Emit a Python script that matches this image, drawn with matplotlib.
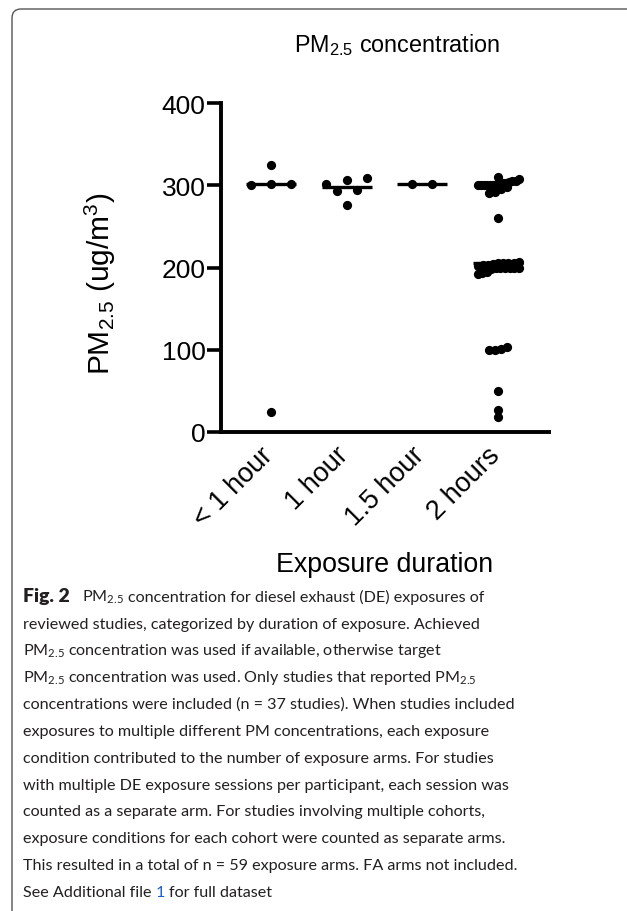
import numpy as np
import matplotlib
matplotlib.use("Agg")
import matplotlib.pyplot as plt
from matplotlib.patches import FancyBboxPatch
from matplotlib.transforms import IdentityTransform, ScaledTranslation

categories = ["< 1 hour", "1 hour", "1.5 hour", "2 hours"]
pm_lt1h = [24, 300, 301, 302, 325]
pm_1h = [276, 293, 294, 302, 306, 309]
pm_15h = [302, 302]
pm_2h = [18, 27, 50, 100, 100, 101, 103,
         192, 193, 195, 198, 200, 200, 200, 200, 200, 200, 202, 203, 203,
         204, 205, 205, 205, 206, 207, 260,
         290, 292, 295, 298, 300, 300, 300, 300, 300, 300, 302, 302, 303,
         303, 304, 305, 305, 307, 310]
groups = [pm_lt1h, pm_1h, pm_15h, pm_2h]

caption_lines = [
    "concentration for diesel exhaust (DE) exposures of",
    "reviewed studies, categorized by duration of exposure. Achieved",
    "PM$\\mathregular{_{2.5}}$ concentration was used if available, otherwise target",
    "PM$\\mathregular{_{2.5}}$ concentration was used. Only studies that reported PM$\\mathregular{_{2.5}}$",
    "concentrations were included (n = 37 studies). When studies included",
    "exposures to multiple different PM concentrations, each exposure",
    "condition contributed to the number of exposure arms. For studies",
    "with multiple DE exposure sessions per participant, each session was",
    "counted as a separate arm. For studies involving multiple cohorts,",
    "exposure conditions for each cohort were counted as separate arms.",
    "This resulted in a total of n = 59 exposure arms. FA arms not included.",
]

W, H = 627, 912
fig = plt.figure(figsize=(W / 100, H / 100), dpi=100)
plt.rcParams["font.family"] = ["Liberation Sans", "DejaVu Sans"]


def fx(x):
    return x / W


def fy(y):
    return 1 - y / H


# rounded frame (pixel coords, origin bottom-left)
frame = FancyBboxPatch((12, -20), 700, (H - 10) + 20,
                       boxstyle="round,pad=0,rounding_size=9",
                       transform=IdentityTransform(), fill=False,
                       edgecolor="#555555", linewidth=1.0)
fig.patches.append(frame)

ax = fig.add_axes([fx(221), fy(433), fx(549) - fx(221), fy(104) - fy(433)])


def arrange(vals, tol=8, step=0.265, tight=0.08, maxhalf=0.27):
    vals = sorted(vals)
    rows, cur = [], [vals[0]]
    for v in vals[1:]:
        if v - cur[0] <= tol:
            cur.append(v)
        else:
            rows.append(cur)
            cur = [v]
    rows.append(cur)
    offs, ys = [], []
    for r in rows:
        n = len(r)
        sp = step if n <= 3 else min(tight, 2 * maxhalf / (n - 1))
        for i, v in enumerate(r):
            offs.append((i - (n - 1) / 2) * sp)
            ys.append(v)
    return np.array(offs), np.array(ys)


for i, vals in enumerate(groups):
    offs, ys = arrange(vals)
    ax.hlines(np.median(vals), i - 0.33, i + 0.33, color="black", lw=2.4, zorder=2)
    ax.scatter(i + offs, ys, s=44, color="black", zorder=3, linewidths=0)

ax.set_xlim(-0.656, 3.67)
ax.set_ylim(0, 400)
ax.set_yticks([0, 100, 200, 300, 400])
ax.set_xticks(range(len(categories)))
ax.set_xticklabels(categories, rotation=45, ha="right", fontsize=19.5)
ax.tick_params(axis="x", length=0, pad=7)
ax.tick_params(axis="y", length=10, width=2.6, labelsize=19, pad=1)
for s in ["top", "right"]:
    ax.spines[s].set_visible(False)
for s in ["left", "bottom"]:
    ax.spines[s].set_linewidth(2.8)
shift = ScaledTranslation(7 / 100, 0, fig.dpi_scale_trans)
for lab in ax.get_xticklabels():
    lab.set_transform(lab.get_transform() + shift)

fig.text(fx(397), fy(45), "PM$\\mathregular{_{2.5}}$ concentration", fontsize=16.8,
         ha="center", va="center")
fig.text(fx(100), fy(284), "PM$\\mathregular{_{2.5}}$ (ug/m$\\mathregular{^{3}}$)",
         fontsize=21.5, rotation=90, ha="center", va="center")
fig.text(fx(385), fy(565), "Exposure duration", fontsize=19.3, ha="center", va="center")

# caption
cap_font = ["Lato", "DejaVu Sans"]
cap_color = "#231f20"
cap_size = 11.65
x0 = 23
base0 = 601.7
dy = 26.85
renderer = fig.canvas.get_renderer()


def width_px(t, **kw):
    tt = fig.text(0, 0, t, **kw)
    w = tt.get_window_extent(renderer).width
    tt.remove()
    return w


kw = dict(fontsize=cap_size, family=cap_font, color=cap_color, va="baseline")
space = width_px("a a", **kw) - width_px("aa", **kw)

t = fig.text(fx(x0), fy(base0), "Fig. 2", fontweight="heavy",
             **dict(kw, fontsize=cap_size * 1.2))
xn = x0 + t.get_window_extent(renderer).width + 3 * space
t = fig.text(fx(xn), fy(base0), "PM$\\mathregular{_{2.5}}$", **kw)
xn = xn + t.get_window_extent(renderer).width + space
fig.text(fx(xn), fy(base0), caption_lines[0], **kw)
for k, line in enumerate(caption_lines[1:], start=1):
    fig.text(fx(x0), fy(base0 + k * dy), line, **kw)

yl = base0 + len(caption_lines) * dy
t = fig.text(fx(x0), fy(yl), "See Additional file", **kw)
xn = x0 + t.get_window_extent(renderer).width + space
kw_blue = dict(kw, color="#1f5fd6")
t = fig.text(fx(xn), fy(yl), "1", **kw_blue)
xn = xn + t.get_window_extent(renderer).width + space
fig.text(fx(xn), fy(yl), "for full dataset", **kw)

fig.savefig("out.png", dpi=100)
